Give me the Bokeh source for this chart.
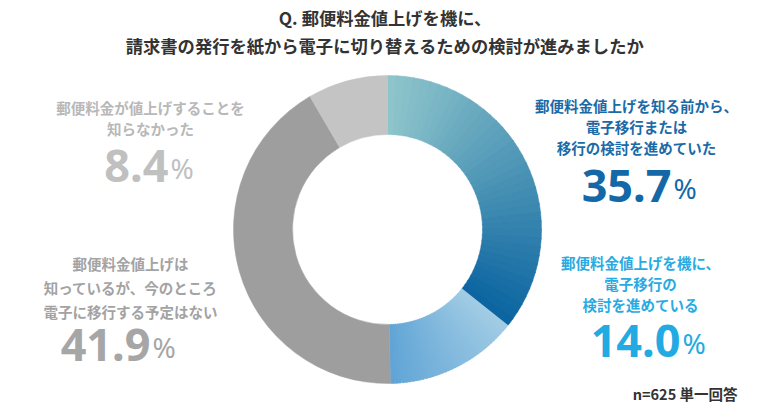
import math
from bokeh.plotting import figure
from bokeh.models import ColumnDataSource
from bokeh.core.properties import value
from bokeh.embed import file_html
from bokeh.resources import INLINE

# ---- data ----
categories = [
    "郵便料金値上げを知る前から、電子移行または移行の検討を進めていた",
    "郵便料金値上げを機に、電子移行の検討を進めている",
    "郵便料金値上げは知っているが、今のところ電子に移行する予定はない",
    "郵便料金が値上げすることを知らなかった",
]
values = [35.7, 14.0, 41.9, 8.4]
label_lines = [
    ["郵便料金値上げを知る前から、", "電子移行または", "移行の検討を進めていた"],
    ["郵便料金値上げを機に、", "電子移行の", "検討を進めている"],
    ["郵便料金値上げは", "知っているが、今のところ", "電子に移行する予定はない"],
    ["郵便料金が値上げすることを", "知らなかった"],
]
title_lines = ["Q. 郵便料金値上げを機に、", "請求書の発行を紙から電子に切り替えるための検討が進みましたか"]
note = "n=625 単一回答"

# ---- style ----
W, H = 767, 416
FONT = value("Noto Sans CJK JP")
NUMFONT = value("Noto Sans")
CX, CY = 387, H - 229
R_OUT, R_IN = 154, 95
grad = [("#90c6cc", "#0a64a0"), ("#a2cde4", "#60a4d6"), ("#9e9e9e", "#9e9e9e"), ("#c4c4c4", "#c4c4c4")]
text_colors = ["#1a6aa8", "#29abe2", "#a3a3a3", "#b8b8b8"]
num_colors = ["#1468a8", "#22abe2", "#a6a6a6", "#c0c0c0"]
label_pos = [(636, 105, 21), (640, 262, 21), (130, 263, 24), (150, 107, 21)]
num_pos = [(671, 185), (680, 340), (150, 344), (168, 165)]


def hx(c):
    return tuple(int(c[i:i + 2], 16) for i in (1, 3, 5))


def mix(a, b, t):
    a, b = hx(a), hx(b)
    return "#%02x%02x%02x" % tuple(round(a[i] + (b[i] - a[i]) * t) for i in range(3))


p = figure(width=W, height=H, x_range=(0, W), y_range=(0, H),
           output_backend="svg", toolbar_location=None, min_border=0)
p.axis.visible = False
p.grid.visible = False
p.outline_line_color = None

# donut slices (gradient drawn as thin sub-wedges of each slice)
total = sum(values)
cum = 0.0
ws = dict(start=[], end=[], color=[])
for i, v in enumerate(values):
    a0 = math.pi / 2 - 2 * math.pi * cum / total
    a1 = math.pi / 2 - 2 * math.pi * (cum + v) / total
    n = 40 if grad[i][0] != grad[i][1] else 1
    for k in range(n):
        s = a0 + (a1 - a0) * k / n
        e = a0 + (a1 - a0) * (k + 1) / n
        ws["start"].append(s)
        ws["end"].append(e - (0.006 if k < n - 1 else 0))
        ws["color"].append(mix(grad[i][0], grad[i][1], (k + 0.5) / n))
    cum += v
p.annular_wedge(x=CX, y=CY, inner_radius=R_IN, outer_radius=R_OUT,
                start_angle="start", end_angle="end", direction="clock",
                fill_color="color", line_color="color", line_width=0.5,
                source=ColumnDataSource(ws))

# title
p.text(x=[W / 2 + 1, W / 2 + 1], y=[H - 17, H - 45], text=title_lines,
       text_font=FONT, text_font_style="bold", text_font_size="17.3px",
       text_color="#333333", text_align="center", text_baseline="middle")

# labels
for i in range(len(values)):
    x, y0, dy = label_pos[i]
    ys = [H - (y0 + j * dy) for j in range(len(label_lines[i]))]
    p.text(x=[x] * len(ys), y=ys, text=label_lines[i], text_font=FONT,
           text_font_style="bold", text_font_size="14.5px",
           text_color=text_colors[i], text_align="center", text_baseline="middle")
    nx, ny = num_pos[i]
    p.text(x=[nx], y=[H - ny], text=[f"{values[i]:.1f}"], text_font=NUMFONT,
           text_font_style="bold", text_font_size="45px", text_color=num_colors[i],
           text_align="right", text_baseline="middle")
    p.text(x=[nx + 2], y=[H - ny - 2], text=["%"], text_font=NUMFONT,
           text_font_style="normal", text_font_size="28px", text_color=num_colors[i],
           text_align="left", text_baseline="middle")

# note
p.text(x=[737], y=[H - 393], text=[note], text_font=FONT, text_font_style="bold",
       text_font_size="14.5px", text_color="#333333", text_align="right",
       text_baseline="middle")

open("out.html", "w").write(file_html(p, INLINE))
